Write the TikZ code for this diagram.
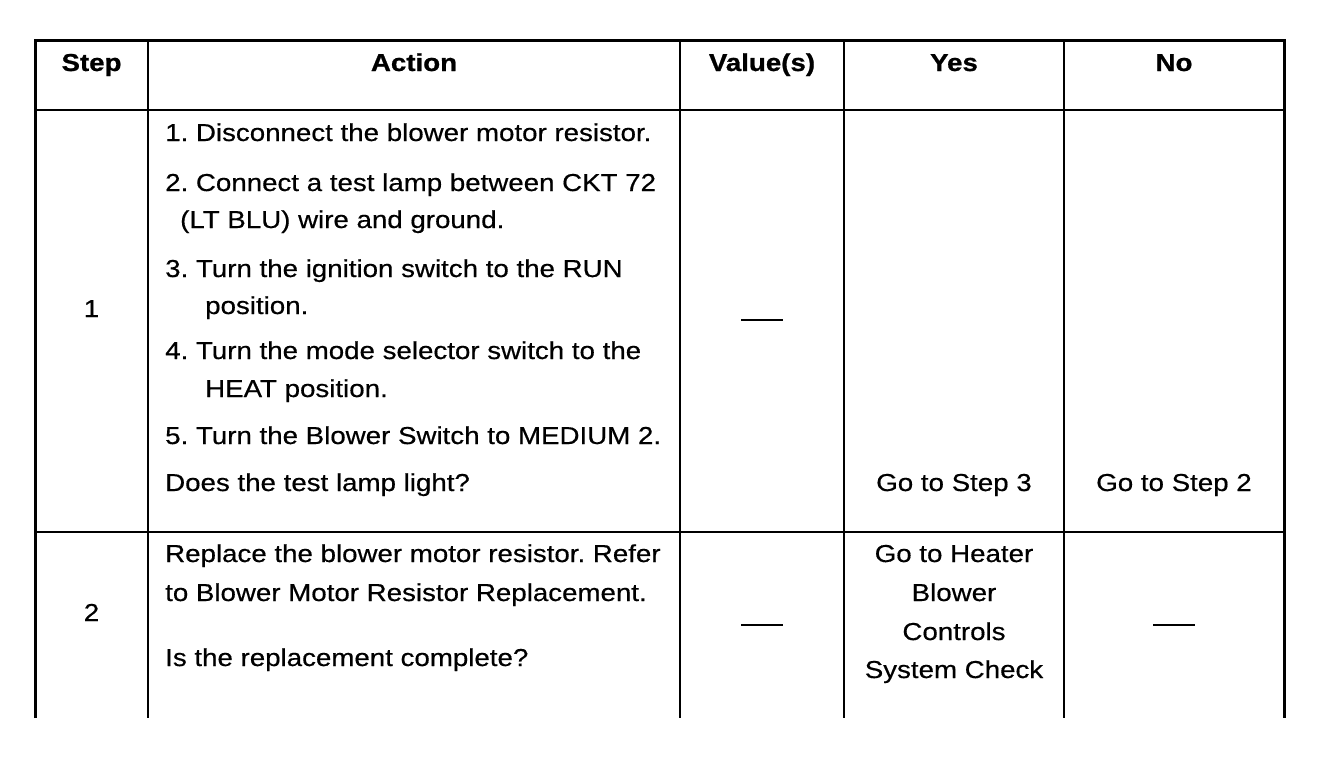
\documentclass[tikz,border=0pt]{standalone}
\usepackage{fontspec}
\setmainfont{Liberation Sans}[FakeStretch=1.13,FakeBold=0.5,BoldFeatures={FakeBold=0.8}]
\begin{document}
\frenchspacing
\begin{tikzpicture}[x=1pt,y=-1pt,
  outer/.style={line width=3pt},
  inner/.style={line width=2.2pt},
  txt/.style={inner sep=0pt,anchor=base west,font=\fontsize{24.5}{28}\selectfont},
  ctxt/.style={inner sep=0pt,anchor=base,font=\fontsize{24.5}{28}\selectfont},
  hdr/.style={inner sep=0pt,anchor=base,font=\fontsize{24.5}{28}\selectfont\bfseries},
  dashmark/.style={inner sep=0pt,anchor=center}
]
\useasboundingbox (0,0) rectangle (1344,758);
% grid
\draw[outer] (35,718) -- (35,40) -- (1284,40) -- (1284,718);
\draw[inner] (35,110) -- (1284,110);
\draw[inner] (35,532) -- (1284,532);
\draw[inner] (148,40) -- (148,718);
\draw[inner] (680,40) -- (680,718);
\draw[inner] (844,40) -- (844,718);
\draw[inner] (1064,40) -- (1064,718);
% header
\node[hdr] (hstep) at (91.5,71) {Step};
\node[hdr] (haction) at (414,71) {Action};
\node[hdr] (hval) at (762,71) {Value(s)};
\node[hdr] (hyes) at (954,71) {Yes};
\node[hdr] (hno) at (1174,71) {No};
% row 1
\node[ctxt] (s1) at (91.5,317) {1};
\node[txt] (a1) at (165,141) {1. Disconnect the blower motor resistor.};
\node[txt] (a2) at (165,191) {2. Connect a test lamp between CKT 72};
\node[txt] (a2b) at (180,228) {(LT BLU) wire and ground.};
\node[txt] (a3) at (165,277) {3. Turn the ignition switch to the RUN};
\node[txt] (a3b) at (205,314) {position.};
\node[txt] (a4) at (165,359) {4. Turn the mode selector switch to the};
\node[txt] (a4b) at (205,397) {HEAT position.};
\node[txt] (a5) at (165,444) {5. Turn the Blower Switch to MEDIUM 2.};
\node[txt] (a6) at (165,491) {Does the test lamp light?};
\node[dashmark] (v1) at (762,320) {\rule{42pt}{2pt}};
\node[ctxt] (y1) at (954,491) {Go to Step 3};
\node[ctxt] (n1) at (1174,491) {Go to Step 2};
% row 2
\node[ctxt] (s2) at (91.5,621) {2};
\node[txt] (b1) at (165,562) {Replace the blower motor resistor. Refer};
\node[txt] (b2) at (165,601) {to Blower Motor Resistor Replacement.};
\node[txt] (b3) at (165,666) {Is the replacement complete?};
\node[dashmark] (v2) at (762,625) {\rule{42pt}{2pt}};
\node[ctxt] (y2a) at (954,562) {Go to Heater};
\node[ctxt] (y2b) at (954,601) {Blower};
\node[ctxt] (y2c) at (954,640) {Controls};
\node[ctxt] (y2d) at (954,678) {System Check};
\node[dashmark] (n2) at (1174,625) {\rule{42pt}{2pt}};
\end{tikzpicture}
\end{document}
